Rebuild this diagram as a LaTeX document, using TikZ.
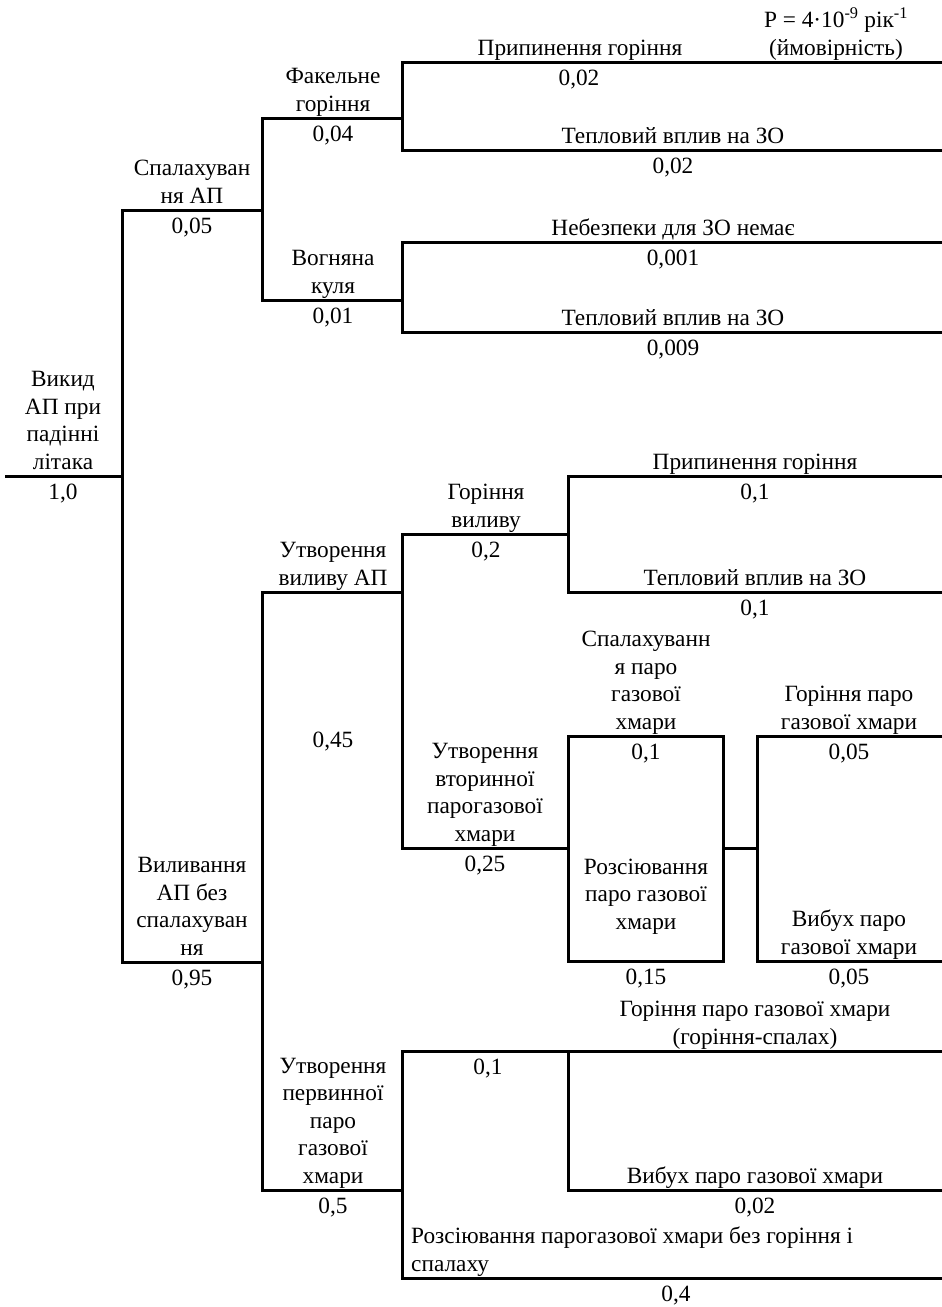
\documentclass[tikz,border=0pt]{standalone}
\usepackage{fontspec}
\setmainfont{Liberation Serif}
\newcommand{\lb}[1]{\begin{tabular}[b]{@{}c@{}}#1\end{tabular}}
\newcommand{\lt}[1]{\begin{tabular}[b]{@{}l@{}}#1\end{tabular}}
\begin{document}
\begin{tikzpicture}[x=1pt,y=-1pt,
  lab/.style={anchor=base,inner sep=0pt,font=\fontsize{23.3}{27.5}\selectfont},
  labw/.style={lab,anchor=base west},
  br/.style={line width=3pt,line join=miter}]
\useasboundingbox (0,0) rectangle (942,1307);
% coordinates
\coordinate (R0) at (5,476); \coordinate (R1) at (122,476);
\coordinate (A1) at (122,210); \coordinate (A2) at (122,962);
\coordinate (B1) at (262,210); \coordinate (B2) at (262,962);
\coordinate (B3) at (262,118); \coordinate (B4) at (262,300);
\coordinate (B5) at (262,592); \coordinate (B6) at (262,1190);
\coordinate (C1) at (402,118); \coordinate (C2) at (402,300);
\coordinate (C3) at (402,62);  \coordinate (C4) at (402,150);
\coordinate (C5) at (402,242); \coordinate (C6) at (402,332);
\coordinate (C7) at (402,592); \coordinate (C8) at (402,1190);
\coordinate (C9) at (402,534); \coordinate (C10) at (402,848);
\coordinate (C11) at (402,1051); \coordinate (C12) at (402,1278);
\coordinate (E1) at (942,62);  \coordinate (E2) at (942,150);
\coordinate (E3) at (942,242); \coordinate (E4) at (942,332);
\coordinate (E5) at (942,476); \coordinate (E6) at (942,592);
\coordinate (E7) at (942,736); \coordinate (E8) at (942,961);
\coordinate (E9) at (942,1051); \coordinate (E10) at (942,1190);
\coordinate (E11) at (942,1278);
\coordinate (D1) at (568,534); \coordinate (D2) at (568,476); \coordinate (D3) at (568,592);
\coordinate (F1) at (568,736); \coordinate (F2) at (723,961);
\coordinate (F3) at (568,848); \coordinate (F4) at (723,848);
\coordinate (G1) at (757,848); \coordinate (G2) at (757,736); \coordinate (G3) at (757,961);
\coordinate (H1) at (568,1051); \coordinate (H2) at (568,1190);
% connectors
\draw[br] (R0) -- (R1);
\draw[br] (B1) -- (A1) -- (A2) -- (B2);
\draw[br] (C1) -- (B3) -- (B4) -- (C2);
\draw[br] (E1) -- (C3) -- (C4) -- (E2);
\draw[br] (E3) -- (C5) -- (C6) -- (E4);
\draw[br] (C7) -- (B5) -- (B6) -- (C8);
\draw[br] (D1) -- (C9) -- (C10) -- (F3);
\draw[br] (E5) -- (D2) -- (D3) -- (E6);
\draw[br] (F1) rectangle (F2);
\draw[br] (F4) -- (G1);
\draw[br] (E7) -- (G2) -- (G3) -- (E8);
\draw[br] (E9) -- (C11) -- (C12) -- (E11);
\draw[br] (E10) -- (H2) -- (H1);
% labels: top
\node[lab] (pval) at (836,55) {\lb{P = 4·10\textsuperscript{-9} рік\textsuperscript{-1}\\(ймовірність)}};
\node[lab] (t1) at (580,55) {\lb{Припинення горіння}};
\node[lab] (p1) at (579,85) {0,02};
\node[lab] (t2) at (333,111) {\lb{Факельне\\горіння}};
\node[lab] (p2) at (333,141) {0,04};
\node[lab] (t3) at (673,143) {\lb{Тепловий вплив на ЗО}};
\node[lab] (p3) at (673,173) {0,02};
\node[lab] (t4) at (192,203) {\lb{Спалахуван\\ня АП}};
\node[lab] (p4) at (192,233) {0,05};
\node[lab] (t5) at (673,235) {\lb{Небезпеки для ЗО немає}};
\node[lab] (p5) at (673,265) {0,001};
\node[lab] (t6) at (333,293) {\lb{Вогняна\\куля}};
\node[lab] (p6) at (333,323) {0,01};
\node[lab] (t7) at (673,325) {\lb{Тепловий вплив на ЗО}};
\node[lab] (p7) at (673,355) {0,009};
% root
\node[lab] (t8) at (63,469) {\lb{Викид\\АП при\\падінні\\літака}};
\node[lab] (p8) at (63,499) {1,0};
% bottom
\node[lab] (t9) at (192,955) {\lb{Виливання\\АП без\\спалахуван\\ня}};
\node[lab] (p9) at (192,985) {0,95};
\node[lab] (t10) at (333,585) {\lb{Утворення\\виливу АП}};
\node[lab] (p10) at (333,747) {0,45};
\node[lab] (t11) at (486,527) {\lb{Горіння\\виливу}};
\node[lab] (p11) at (486,557) {0,2};
\node[lab] (t12) at (755,469) {\lb{Припинення горіння}};
\node[lab] (p12) at (755,499) {0,1};
\node[lab] (t13) at (755,585) {\lb{Тепловий вплив на ЗО}};
\node[lab] (p13) at (755,615) {0,1};
\node[lab] (t14) at (485,841) {\lb{Утворення\\вторинної\\парогазової\\хмари}};
\node[lab] (p14) at (485,871) {0,25};
\node[lab] (t15) at (646,729) {\lb{Спалахуванн\\я паро\\газової\\хмари}};
\node[lab] (p15) at (646,759) {0,1};
\node[lab] (t16) at (646,929) {\lb{Розсіювання\\паро газової\\хмари}};
\node[lab] (p16) at (646,984) {0,15};
\node[lab] (t17) at (849,729) {\lb{Горіння паро\\газової хмари}};
\node[lab] (p17) at (849,759) {0,05};
\node[lab] (t18) at (849,954) {\lb{Вибух паро\\газової хмари}};
\node[lab] (p18) at (849,984) {0,05};
\node[lab] (t19) at (755,1044) {\lb{Горіння паро газової хмари\\(горіння-спалах)}};
\node[lab] (p19) at (488,1074) {0,1};
\node[lab] (t20) at (333,1183) {\lb{Утворення\\первинної\\паро\\газової\\хмари}};
\node[lab] (p20) at (333,1213) {0,5};
\node[lab] (t21) at (755,1183) {\lb{Вибух паро газової хмари}};
\node[lab] (p21) at (755,1213) {0,02};
\node[labw] (t22) at (411,1271) {\lt{Розсіювання парогазової хмари без горіння і\\спалаху}};
\node[lab] (p22) at (676,1301) {0,4};
\end{tikzpicture}
\end{document}
